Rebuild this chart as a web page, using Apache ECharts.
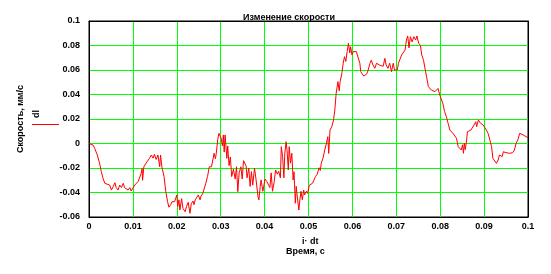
<!DOCTYPE html>
<html>
<head>
<meta charset="utf-8">
<script src="https://cdn.jsdelivr.net/npm/echarts@6/dist/echarts.min.js"></script>
<style>html,body{margin:0;padding:0;background:#fff}#c{width:551px;height:274px}</style>
</head>
<body>
<div id="c"></div>
<script>
var titleText = 'Изменение скорости';
var yName = 'Скорость, мм/с';
var xExpr = 'i· dt';
var xName = 'Время, с';
var legendName = 'dl';
var xTicks = [0, 0.01, 0.02, 0.03, 0.04, 0.05, 0.06, 0.07, 0.08, 0.09, 0.1];
var yTicks = [-0.06, -0.04, -0.02, 0, 0.02, 0.04, 0.06, 0.08, 0.1];

var time = [0, 0.0009, 0.0013, 0.0019, 0.0024, 0.0028, 0.0032, 0.0036, 0.0039, 0.0047, 0.0051, 0.0055, 0.0059, 0.0062, 0.0066, 0.007, 0.0074, 0.0078, 0.0081, 0.0085, 0.0089, 0.0093, 0.0096, 0.01, 0.0104, 0.0108, 0.0112, 0.0115, 0.0119, 0.0121, 0.0122, 0.0125, 0.013, 0.0134, 0.0138, 0.0142, 0.0146, 0.0149, 0.0153, 0.0157, 0.0161, 0.0163, 0.0166, 0.0171, 0.0175, 0.0179, 0.0182, 0.0186, 0.0189, 0.0195, 0.02, 0.0202, 0.0205, 0.0207, 0.0211, 0.0214, 0.0219, 0.0222, 0.0226, 0.023, 0.0233, 0.0237, 0.0239, 0.0242, 0.0246, 0.0249, 0.0253, 0.0255, 0.0259, 0.0262, 0.0266, 0.027, 0.0274, 0.0279, 0.0283, 0.0285, 0.0288, 0.029, 0.0293, 0.0296, 0.0298, 0.0301, 0.0304, 0.0306, 0.0308, 0.031, 0.0314, 0.0316, 0.0319, 0.0322, 0.0325, 0.0329, 0.0333, 0.0336, 0.0339, 0.0342, 0.0346, 0.0349, 0.0352, 0.0355, 0.0358, 0.036, 0.0364, 0.0367, 0.037, 0.0373, 0.0377, 0.038, 0.0385, 0.0387, 0.039, 0.0392, 0.0396, 0.0398, 0.0401, 0.0405, 0.0409, 0.0412, 0.0415, 0.0418, 0.0422, 0.0425, 0.0429, 0.0432, 0.0436, 0.0438, 0.0441, 0.0444, 0.0446, 0.0449, 0.0451, 0.0454, 0.0456, 0.0459, 0.0462, 0.0465, 0.0467, 0.047, 0.0472, 0.0474, 0.0478, 0.048, 0.0483, 0.0486, 0.0489, 0.0491, 0.0495, 0.0498, 0.0502, 0.0506, 0.0509, 0.0513, 0.0516, 0.052, 0.0524, 0.0527, 0.0529, 0.0533, 0.0537, 0.054, 0.0544, 0.0546, 0.0549, 0.0553, 0.0557, 0.056, 0.0563, 0.0567, 0.057, 0.0572, 0.0576, 0.0579, 0.0582, 0.0585, 0.0588, 0.0591, 0.0594, 0.0596, 0.0599, 0.0602, 0.0605, 0.0609, 0.0613, 0.0617, 0.0619, 0.0623, 0.0626, 0.063, 0.0633, 0.0636, 0.064, 0.0643, 0.0647, 0.0651, 0.0655, 0.0659, 0.0662, 0.0666, 0.067, 0.0674, 0.0677, 0.0681, 0.0685, 0.0689, 0.0693, 0.0696, 0.07, 0.0702, 0.0705, 0.0709, 0.0712, 0.0716, 0.072, 0.0723, 0.0726, 0.0729, 0.0732, 0.0736, 0.074, 0.0744, 0.0747, 0.0751, 0.0755, 0.0758, 0.0762, 0.0766, 0.0769, 0.0773, 0.0777, 0.078, 0.0784, 0.0788, 0.0791, 0.0795, 0.0799, 0.0803, 0.0806, 0.081, 0.0814, 0.0818, 0.0822, 0.0825, 0.0829, 0.0833, 0.0837, 0.0841, 0.0844, 0.0848, 0.0851, 0.0853, 0.0855, 0.0857, 0.086, 0.0862, 0.0866, 0.087, 0.0874, 0.0877, 0.0881, 0.0883, 0.0887, 0.0889, 0.0892, 0.0895, 0.0898, 0.0902, 0.0905, 0.0909, 0.0913, 0.0917, 0.092, 0.0924, 0.0928, 0.0932, 0.0935, 0.0939, 0.0941, 0.0944, 0.0947, 0.095, 0.0954, 0.0958, 0.0961, 0.0965, 0.0969, 0.0973, 0.0977, 0.0981, 0.0985, 0.0989, 0.0993, 0.0998, 0.1];

var speed = [0, -0.0012, -0.004, -0.0094, -0.016, -0.023, -0.0284, -0.0325, -0.0339, -0.0339, -0.038, -0.0353, -0.032, -0.036, -0.038, -0.0339, -0.036, -0.0325, -0.036, -0.035, -0.038, -0.036, -0.0388, -0.039, -0.034, -0.035, -0.031, -0.030, -0.0243, -0.0203, -0.030, -0.019, -0.016, -0.0147, -0.012, -0.0094, -0.012, -0.0088, -0.013, -0.0094, -0.019, -0.0094, -0.019, -0.027, -0.0393, -0.0475, -0.052, -0.050, -0.0475, -0.0475, -0.042, -0.0515, -0.046, -0.0543, -0.045, -0.053, -0.0557, -0.0515, -0.048, -0.057, -0.049, -0.047, -0.050, -0.046, -0.045, -0.042, -0.046, -0.043, -0.041, -0.040, -0.0325, -0.027, -0.019, -0.019, -0.018, -0.008, -0.0124, -0.008, 0.003, 0.0083, 0.0097, 0.0043, -0.002, 0.007, -0.007, 0.007, -0.0121, -0.002, -0.018, -0.011, -0.027, -0.021, -0.029, -0.019, -0.0393, -0.024, -0.019, -0.029, -0.014, -0.0125, -0.0185, -0.028, -0.02, -0.035, -0.023, -0.034, -0.02, -0.028, -0.0434, -0.046, -0.035, -0.0297, -0.039, -0.035, -0.029, -0.031, -0.03, -0.036, -0.024, -0.039, -0.031, -0.0216, -0.025, -0.0225, -0.028, -0.0026, -0.0107, -0.028, -0.008, 0.0015, -0.005, -0.0216, -0.0026, -0.016, -0.008, -0.0298, -0.023, -0.0488, -0.035, -0.042, -0.0543, -0.047, -0.039, -0.046, -0.038, -0.042, -0.039, -0.0407, -0.034, -0.035, -0.0325, -0.0325, -0.027, -0.025, -0.0198, -0.022, -0.0162, -0.012, -0.0053, -0.0012, 0.0056, -0.0081, 0.011, 0.0137, 0.0192, 0.0273, 0.041, 0.0505, 0.043, 0.0505, 0.0573, 0.0655, 0.0709, 0.067, 0.075, 0.0818, 0.074, 0.079, 0.0723, 0.075, 0.0736, 0.075, 0.0736, 0.0655, 0.0586, 0.057, 0.055, 0.056, 0.057, 0.06, 0.0655, 0.068, 0.064, 0.0614, 0.0655, 0.066, 0.064, 0.0655, 0.063, 0.0695, 0.064, 0.0614, 0.0655, 0.0586, 0.0655, 0.06, 0.0614, 0.06, 0.0655, 0.067, 0.0722, 0.071, 0.0763, 0.0845, 0.0878, 0.078, 0.0872, 0.083, 0.0872, 0.0845, 0.0878, 0.0818, 0.08, 0.0722, 0.068, 0.06, 0.0545, 0.0464, 0.045, 0.0436, 0.0423, 0.0423, 0.0436, 0.045, 0.0396, 0.0382, 0.0328, 0.026, 0.0219, 0.0165, 0.011, 0.0097, 0.0083, 0.007, 0.0043, -0.0026, -0.001, -0.0053, -0.001, -0.008, 0.0003, -0.005, 0.002, 0.0096, 0.0083, 0.011, 0.0124, 0.0151, 0.0178, 0.0137, 0.0192, 0.0206, 0.0165, 0.0178, 0.0151, 0.0165, 0.011, 0.0083, 0.003, -0.0026, -0.0121, -0.0135, -0.0162, -0.0135, -0.0094, -0.008, -0.0107, -0.0067, -0.008, -0.0075, -0.0067, -0.008, -0.0067, -0.0075, -0.0053, 0.0003, 0.003, 0.0083, 0.0083, 0.007, 0.0062, 0.0051, 0.005];

var FONT = 'Liberation Sans, Arial, sans-serif';
var data = time.map(function (t, i) { return [t, speed[i]]; });
function fmt(v) { return String(+v.toFixed(2)); }
var lbl = {color: '#000', fontSize: 9, fontWeight: 'bold', fontFamily: FONT, formatter: fmt};
var green = {show: true, showMinLine: false, showMaxLine: false, lineStyle: {color: '#00ff00', width: 1}};
var blackLine = {show: true, onZero: false, lineStyle: {color: '#000', width: 1}};

var chart = echarts.init(document.getElementById('c'), null, {renderer: 'canvas'});
chart.setOption({
  animation: false,
  backgroundColor: '#fff',
  title: {
    text: titleText, left: 238, top: 8,
    textStyle: {fontSize: 9, fontWeight: 'bold', color: '#000', fontFamily: FONT}
  },
  grid: {left: 89, right: 23, top: 21, bottom: 57, show: true, borderColor: '#000', borderWidth: 1, backgroundColor: 'transparent'},
  xAxis: [{
    type: 'value', min: xTicks[0], max: xTicks[xTicks.length - 1], interval: 0.01,
    axisLine: blackLine, axisTick: {show: false}, splitLine: green,
    axisLabel: Object.assign({margin: 5}, lbl)
  }, {
    type: 'value', position: 'top', min: xTicks[0], max: xTicks[xTicks.length - 1],
    axisLine: blackLine, axisTick: {show: false}, splitLine: {show: false}, axisLabel: {show: false}
  }],
  yAxis: [{
    type: 'value', min: yTicks[0], max: yTicks[yTicks.length - 1], interval: 0.02,
    name: yName, nameLocation: 'middle', nameRotate: 90, nameGap: 64,
    nameTextStyle: {fontSize: 9, fontWeight: 'bold', color: '#000', fontFamily: FONT},
    axisLine: blackLine, axisTick: {show: false}, splitLine: green,
    axisLabel: Object.assign({margin: 9}, lbl)
  }, {
    type: 'value', position: 'right', min: yTicks[0], max: yTicks[yTicks.length - 1],
    axisLine: blackLine, axisTick: {show: false}, splitLine: {show: false}, axisLabel: {show: false}
  }],
  graphic: [
    {type: 'text', left: 302, top: 237, style: {text: xExpr, fill: '#000', font: 'bold 9px ' + FONT}},
    {type: 'text', left: 286, top: 247, style: {text: xName, fill: '#000', font: 'bold 9px ' + FONT}},
    {type: 'text', x: 32, y: 118, rotation: Math.PI / 2, style: {text: legendName, fill: '#000', font: 'bold 9px ' + FONT, align: 'left', verticalAlign: 'top'}},
    {type: 'line', shape: {x1: 32, y1: 124.5, x2: 59, y2: 124.5}, style: {stroke: '#ff0000', lineWidth: 1}}
  ],
  series: [{
    type: 'line', data: data, showSymbol: false, symbol: 'none',
    lineStyle: {color: '#ff0000', width: 1}, itemStyle: {color: '#ff0000'}
  }]
});
</script>
</body>
</html>
